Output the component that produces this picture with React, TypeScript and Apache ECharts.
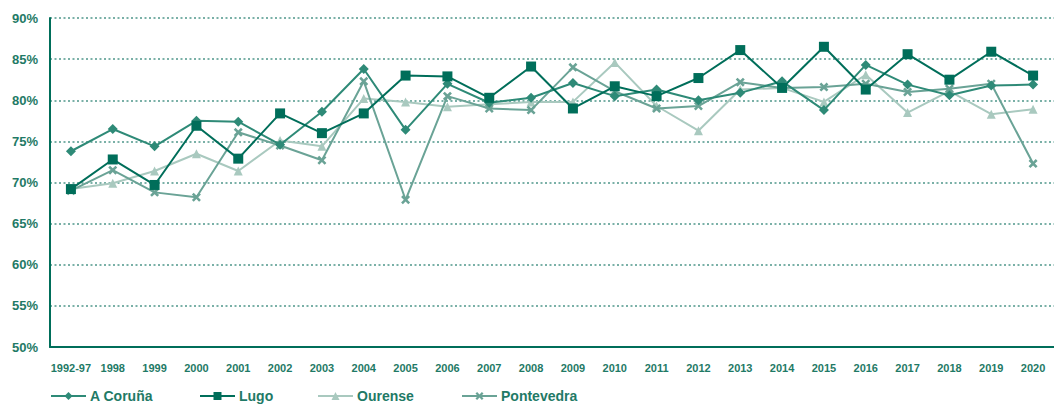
import React, { useEffect, useRef } from "react";
import * as echarts from "echarts";

const categories = [
  "1992-97", "1998", "1999", "2000", "2001", "2002", "2003", "2004", "2005", "2006", "2007", "2008",
  "2009", "2010", "2011", "2012", "2013", "2014", "2015", "2016", "2017", "2018", "2019", "2020",
];
const aCoruna = [73.8, 76.5, 74.4, 77.5, 77.4, 74.6, 78.6, 83.8, 76.4, 82.0, 79.7, 80.3, 82.1, 80.5, 81.3, 80.0, 80.9, 82.3, 78.8, 84.3, 81.9, 80.6, 81.8, 81.9];
const lugo = [69.2, 72.8, 69.7, 76.9, 72.9, 78.4, 76.0, 78.4, 83.0, 82.9, 80.3, 84.1, 79.0, 81.7, 80.5, 82.7, 86.1, 81.5, 86.5, 81.3, 85.6, 82.5, 85.9, 83.0];
const ourense = [69.2, 69.9, 71.4, 73.5, 71.4, 75.1, 74.4, 80.2, 79.8, 79.2, 79.5, 79.8, 79.8, 84.6, 79.3, 76.3, 81.3, 81.5, 79.8, 83.1, 78.5, 81.1, 78.3, 78.9];
const pontevedra = [69.0, 71.5, 68.8, 68.2, 76.1, 74.5, 72.7, 82.3, 67.9, 80.5, 79.0, 78.8, 84.0, 81.1, 79.0, 79.3, 82.2, 81.5, 81.6, 82.0, 81.0, 81.4, 82.0, 72.3];
const yTicks = { min: 50, max: 90, interval: 5 };

const TEXT = "#1f7a66";
const FONT = "'Liberation Sans', Arial, sans-serif";
const CROSS = "path://M0,2 L2,0 L5,3 L8,0 L10,2 L7,5 L10,8 L8,10 L5,7 L2,10 L0,8 L3,5 Z";

export default function App() {
  const ref = useRef<HTMLDivElement>(null);
  useEffect(() => {
    if (!ref.current) return;
    const chart = echarts.init(ref.current, null, { renderer: "svg" });
    const mk = (name: string, data: number[], color: string, symbol: string, size: number, z: number) => ({
      name,
      type: "line",
      data,
      symbol,
      symbolSize: size,
      showSymbol: true,
      z,
      lineStyle: { color, width: 2 },
      itemStyle: { color, borderWidth: 0 },
      emphasis: { disabled: true },
    });
    const legendBase = {
      top: 389,
      padding: 0,
      itemWidth: 35,
      itemHeight: 10,
      itemGap: 0,
      textStyle: { color: TEXT, fontFamily: FONT, fontWeight: "bold", fontSize: 14, padding: [0, 0, 0, -1] },
      selectedMode: false,
    };
    chart.setOption({
      animation: false,
      grid: { left: 50, right: -10, top: 18, bottom: 59 },
      legend: [
        { ...legendBase, left: 50, data: ["A Coruña"] },
        { ...legendBase, left: 199, data: ["Lugo"] },
        { ...legendBase, left: 317, data: ["Ourense"] },
        { ...legendBase, left: 461, data: ["Pontevedra"] },
      ],
      xAxis: {
        type: "category",
        data: categories,
        boundaryGap: true,
        axisLine: { lineStyle: { color: "#006e5a", width: 2 } },
        axisTick: { alignWithLabel: true, length: 5, lineStyle: { color: "#006e5a", width: 2 } },
        axisLabel: { color: TEXT, fontFamily: FONT, fontWeight: "bold", fontSize: 11, margin: 15, interval: 0 },
        splitLine: { show: false },
      },
      yAxis: {
        type: "value",
        min: yTicks.min,
        max: yTicks.max,
        interval: yTicks.interval,
        axisLine: { show: true, lineStyle: { color: "#006e5a", width: 2 } },
        axisTick: { show: false },
        axisLabel: { color: TEXT, fontFamily: FONT, fontWeight: "bold", fontSize: 13, margin: 12, formatter: "{value}%" },
        splitLine: { show: true, lineStyle: { color: "#4f978a", width: 1.5, type: [2, 2.5] } },
      },
      series: [
        mk("Ourense", ourense, "#a9c9bf", "triangle", 9, 2),
        mk("Pontevedra", pontevedra, "#6aa396", CROSS, 9, 3),
        mk("A Coruña", aCoruna, "#2e8a77", "diamond", 10, 4),
        mk("Lugo", lugo, "#006e5a", "rect", 10, 5),
      ],
    });
    return () => chart.dispose();
  }, []);
  return (
    <div
      ref={ref}
      style={{ position: "absolute", left: 0, top: 0, width: 1054, height: 406, background: "#fff" }}
    />
  );
}
